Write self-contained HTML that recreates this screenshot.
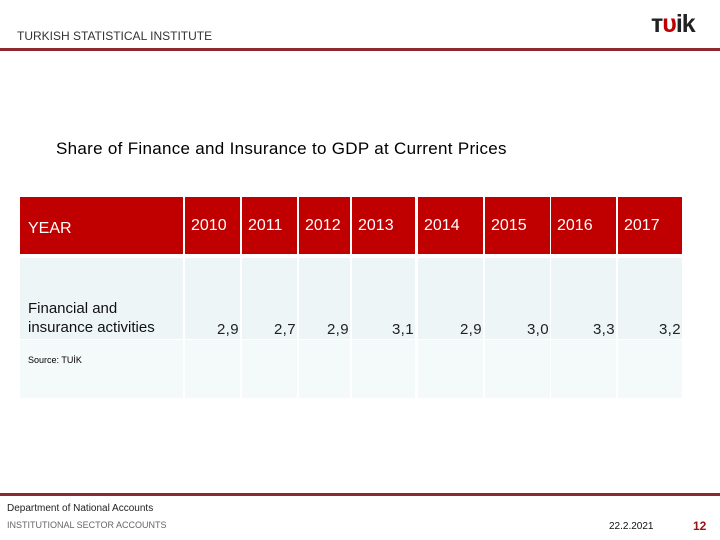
<!DOCTYPE html>
<html><head><meta charset="utf-8"><style>
body{margin:0;width:720px;height:540px;background:#fff;position:relative;overflow:hidden;font-family:"Liberation Sans",sans-serif}
.a{position:absolute}
.hd{background:#c00000;color:#fff;font-size:15px}
.c{background:#eef5f7}
.c2{background:#f4f9fa}
</style></head><body>
<div class="a" style="left:17px;top:29px;font-size:12px;color:#333">TURKISH STATISTICAL INSTITUTE</div>
<div class="a" style="left:651px;top:10px;font-size:25px;font-weight:bold;letter-spacing:-1px;color:#222;line-height:28px">ᴛ<span style="color:#c00000">ᴜ</span>ik</div>
<div class="a" style="left:0;top:48px;width:720px;height:3px;background:#8b2a30"></div>
<div class="a" style="left:56px;top:139px;font-size:17px;letter-spacing:0.3px;color:#000">Share of Finance and Insurance to GDP at Current Prices</div>
<div id="tbl"></div>
<div class="a" style="left:0;top:493px;width:720px;height:3px;background:#8b2a30"></div>
<div class="a" style="left:7px;top:503px;font-size:10px;color:#222">Department of National Accounts</div>
<div class="a" style="left:7px;top:520px;font-size:9px;color:#666">INSTITUTIONAL SECTOR ACCOUNTS</div>
<div class="a" style="left:609px;top:521px;font-size:10px;color:#111">22.2.2021</div>
<div class="a" style="left:693px;top:519px;font-size:12px;font-weight:bold;color:#a01010">12</div>
<script>
const years=["2010","2011","2012","2013","2014","2015","2016","2017"];
const values=["2,9","2,7","2,9","3,1","2,9","3,0","3,3","3,2"];
const edges=[[185,240],[242,297],[299,350],[352,415],[418,483],[485,550],[551,616],[618,682]];
const t=document.getElementById('tbl');
function box(x,y,w,h,cls,html,name){const d=document.createElement('div');d.className='a '+cls;d.style.cssText=`left:${x}px;top:${y}px;width:${w}px;height:${h}px;`+(html.css||'');d.innerHTML=html.t||'';


t.appendChild(d);return d;}
box(20,197,163,57,'hd',{t:'<div style="position:absolute;left:8px;top:23px;font-size:16px">YEAR</div>'},'year-header');
box(20,258,163,81,'c',{t:'<div style="position:absolute;left:8px;top:41px;font-size:15px;line-height:19px;color:#111">Financial and<br>insurance activities</div>'},'row-label');
box(20,340,163,58,'c2',{t:'<div style="position:absolute;left:8px;top:15px;font-size:9px">Source: TUİK</div>'},'source-note');
years.forEach((y,i)=>{const [x0,x1]=edges[i];const w=x1-x0;
box(x0,197,w,57,'hd',{t:`<div style="position:absolute;left:6px;top:20px;font-size:16px">${y}</div>`},'year-'+y);
box(x0,258,w,81,'c',{t:`<div style="position:absolute;right:1px;top:63px;font-size:15px;letter-spacing:0.4px;color:#222">${values[i]}</div>`},'value-'+y);
box(x0,340,w,58,'c2',{},'empty-'+y);
});
</script>
</body></html>
